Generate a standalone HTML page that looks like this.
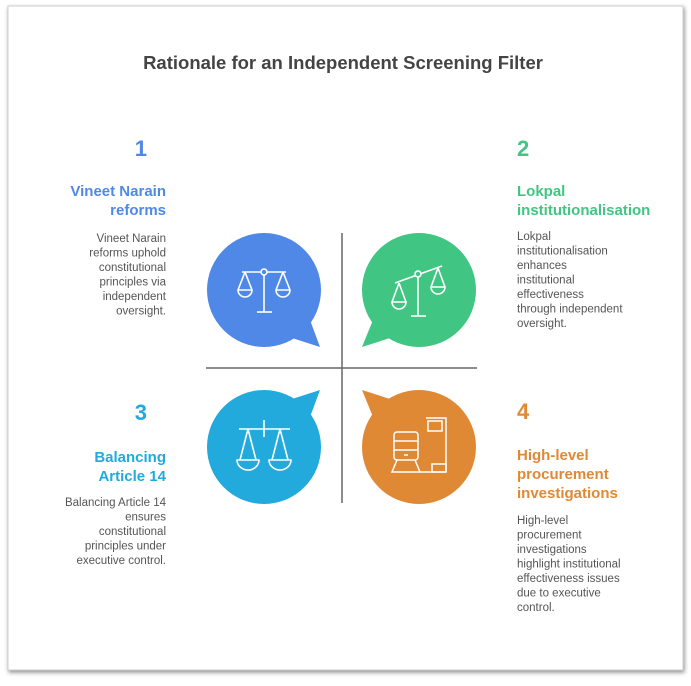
<!DOCTYPE html>
<html><head><meta charset="utf-8"><style>
html,body{margin:0;padding:0;background:#fff;}
svg{display:block;font-family:"Liberation Sans",Arial,sans-serif;}
</style></head><body>
<svg width="691" height="686" viewBox="0 0 691 686" xmlns="http://www.w3.org/2000/svg">
<defs><filter id="sh" x="-5%" y="-5%" width="110%" height="110%"><feDropShadow dx="1" dy="2" stdDeviation="2" flood-color="#000" flood-opacity="0.45"/></filter></defs>
<rect x="8" y="6" width="675" height="664" fill="#fff" stroke="#cfcfcf" stroke-width="1" filter="url(#sh)"/>
<text x="343" y="69" text-anchor="middle" font-size="18.5" font-weight="bold" fill="#444">Rationale for an Independent Screening Filter</text>

<line x1="342" y1="233" x2="342" y2="503" stroke="#666" stroke-width="1.5"/>
<line x1="206" y1="368" x2="477" y2="368" stroke="#666" stroke-width="1.5"/>

<circle cx="264" cy="290" r="57" fill="#4f88e6"/>
<polygon points="310,320 320,347 292,338" fill="#4f88e6"/>
<g stroke="#fff" stroke-width="1.6" fill="none">
<line x1="242" y1="272" x2="286" y2="272"/><circle cx="264" cy="272" r="3" fill="#4f88e6"/>
<line x1="264" y1="275" x2="264" y2="312"/><line x1="257" y1="312" x2="272" y2="312"/>
<path d="M245 272 L238 290 M245 272 L252 290 M238 290 A7 7 0 0 0 252 290 Z"/>
<path d="M283 272 L276 290 M283 272 L290 290 M276 290 A7 7 0 0 0 290 290 Z"/>
</g>

<circle cx="419" cy="290" r="57" fill="#40c583"/>
<polygon points="373,320 362,347 390,338" fill="#40c583"/>
<g stroke="#fff" stroke-width="1.6" fill="none">
<line x1="395" y1="283" x2="442" y2="266"/><circle cx="418" cy="274" r="3" fill="#40c583"/>
<line x1="418" y1="277" x2="418" y2="316"/><line x1="411" y1="316" x2="426" y2="316"/>
<path d="M399 283 L392 302 M399 283 L406 302 M392 302 A7 7 0 0 0 406 302 Z"/>
<path d="M438 268 L431 287 M438 268 L445 287 M431 287 A7 7 0 0 0 445 287 Z"/>
</g>

<circle cx="264" cy="447" r="57" fill="#22aadd"/>
<polygon points="310,417 320,390 292,399" fill="#22aadd"/>
<g stroke="#fff" stroke-width="1.6" fill="none">
<line x1="239" y1="429" x2="290" y2="429"/><line x1="264" y1="420" x2="264" y2="437"/>
<path d="M248 429 L240 460 M248 429 L256 460 M237 460 A11 10 0 0 0 259 460 Z"/>
<path d="M280 429 L272 460 M280 429 L288 460 M269 460 A11 10 0 0 0 291 460 Z"/>
</g>

<circle cx="419" cy="447" r="57" fill="#e08935"/>
<polygon points="373,417 362,390 390,399" fill="#e08935"/>
<g stroke="#fff" stroke-width="1.5" fill="none">
<path d="M426 418 H446 V472"/><rect x="428" y="421" width="14" height="10"/>
<rect x="394" y="432" width="24" height="28" rx="3"/><line x1="394" y1="441" x2="418" y2="441"/><line x1="394" y1="450" x2="418" y2="450"/><line x1="404" y1="455" x2="408" y2="455"/>
<path d="M397 460 L392 472 H446 M415 460 L420 472"/><rect x="432" y="464" width="14" height="8"/>
</g>

<g text-anchor="end">
<text x="147" y="156" font-size="22" font-weight="bold" fill="#4f88e6">1</text>
<text x="166" y="196" font-size="15" font-weight="bold" fill="#4f88e6">Vineet Narain</text>
<text x="166" y="215" font-size="15" font-weight="bold" fill="#4f88e6">reforms</text>
<g font-size="11.5" fill="#555">
<text x="166" y="242">Vineet Narain</text><text x="166" y="256.5">reforms uphold</text><text x="166" y="271">constitutional</text><text x="166" y="285.5">principles via</text><text x="166" y="300">independent</text><text x="166" y="314.5">oversight.</text>
</g>
<text x="147" y="420" font-size="22" font-weight="bold" fill="#22aadd">3</text>
<text x="166" y="462" font-size="15" font-weight="bold" fill="#22aadd">Balancing</text>
<text x="166" y="481" font-size="15" font-weight="bold" fill="#22aadd">Article 14</text>
<g font-size="11.5" fill="#555">
<text x="166" y="506">Balancing Article 14</text><text x="166" y="520.5">ensures</text><text x="166" y="535">constitutional</text><text x="166" y="549.5">principles under</text><text x="166" y="564">executive control.</text>
</g>
</g>

<g>
<text x="517" y="156" font-size="22" font-weight="bold" fill="#40c583">2</text>
<text x="517" y="196" font-size="15" font-weight="bold" fill="#40c583">Lokpal</text>
<text x="517" y="215" font-size="15" font-weight="bold" fill="#40c583">institutionalisation</text>
<g font-size="11.5" fill="#555">
<text x="517" y="240">Lokpal</text><text x="517" y="254.5">institutionalisation</text><text x="517" y="269">enhances</text><text x="517" y="283.5">institutional</text><text x="517" y="298">effectiveness</text><text x="517" y="312.5">through independent</text><text x="517" y="327">oversight.</text>
</g>
<text x="517" y="419" font-size="22" font-weight="bold" fill="#e08935">4</text>
<text x="517" y="460" font-size="15" font-weight="bold" fill="#e08935">High-level</text>
<text x="517" y="479" font-size="15" font-weight="bold" fill="#e08935">procurement</text>
<text x="517" y="498" font-size="15" font-weight="bold" fill="#e08935">investigations</text>
<g font-size="11.5" fill="#555">
<text x="517" y="524">High-level</text><text x="517" y="538.5">procurement</text><text x="517" y="553">investigations</text><text x="517" y="567.5">highlight institutional</text><text x="517" y="582">effectiveness issues</text><text x="517" y="596.5">due to executive</text><text x="517" y="611">control.</text>
</g>
</g>
</svg>
</body></html>
